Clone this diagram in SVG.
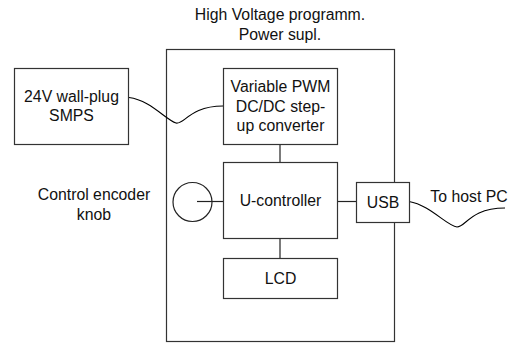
<svg xmlns="http://www.w3.org/2000/svg" width="516" height="343" viewBox="0 0 516 343">
<style>
.box{fill:#fff;stroke:#333;stroke-width:1.2}
.ln{fill:none;stroke:#222;stroke-width:1.2}
.cv{fill:none;stroke:#000;stroke-width:1.1}
text{font-family:"Liberation Sans",Arial,sans-serif;font-size:15.8px;fill:#111;text-anchor:middle}
</style>
<rect width="516" height="343" fill="#fff"/>
<g id="power-supply">
<rect class="box" x="166.5" y="49.5" width="228" height="292"/>
<text x="280" y="19.5">High Voltage programm.</text>
<text x="280" y="40">Power supl.</text>
</g>
<g id="connectors">
<line class="ln" x1="280" y1="144" x2="280" y2="162"/>
<line class="ln" x1="280" y1="239" x2="280" y2="258"/>
<line class="ln" x1="337" y1="201.5" x2="356" y2="201.5"/>
<line class="ln" x1="197" y1="201.5" x2="223" y2="201.5"/>
<path class="cv" d="M129,97.5 C150,100 166,120 176,123 C184,125 190,106 223,106"/>
<path class="cv" d="M409,201.5 C430,205 447,226 457,227 C466,227 470,208 505,208"/>
</g>
<g id="smps">
<rect class="box" x="14.5" y="68.5" width="114" height="76"/>
<text x="71.5" y="101.5">24V wall-plug</text>
<text x="71.5" y="121">SMPS</text>
</g>
<g id="converter">
<rect class="box" x="223.5" y="68.5" width="114" height="76"/>
<text x="280.5" y="92">Variable PWM</text>
<text x="280.5" y="111.5">DC/DC step-</text>
<text x="280.5" y="131">up converter</text>
</g>
<g id="ucontroller">
<rect class="box" x="223.5" y="162.5" width="114" height="76"/>
<text x="280.5" y="206">U-controller</text>
</g>
<g id="lcd">
<rect class="box" x="223.5" y="258.5" width="114" height="40"/>
<text x="280.5" y="284">LCD</text>
</g>
<g id="usb">
<rect class="box" x="356.5" y="182.5" width="53" height="40"/>
<text x="383" y="207.5">USB</text>
</g>
<g id="knob">
<circle class="ln" cx="192.5" cy="202" r="19.5"/>
<text x="94" y="200">Control encoder</text>
<text x="94" y="219.5">knob</text>
</g>
<g id="host">
<text x="469" y="202">To host PC</text>
</g>
</svg>
